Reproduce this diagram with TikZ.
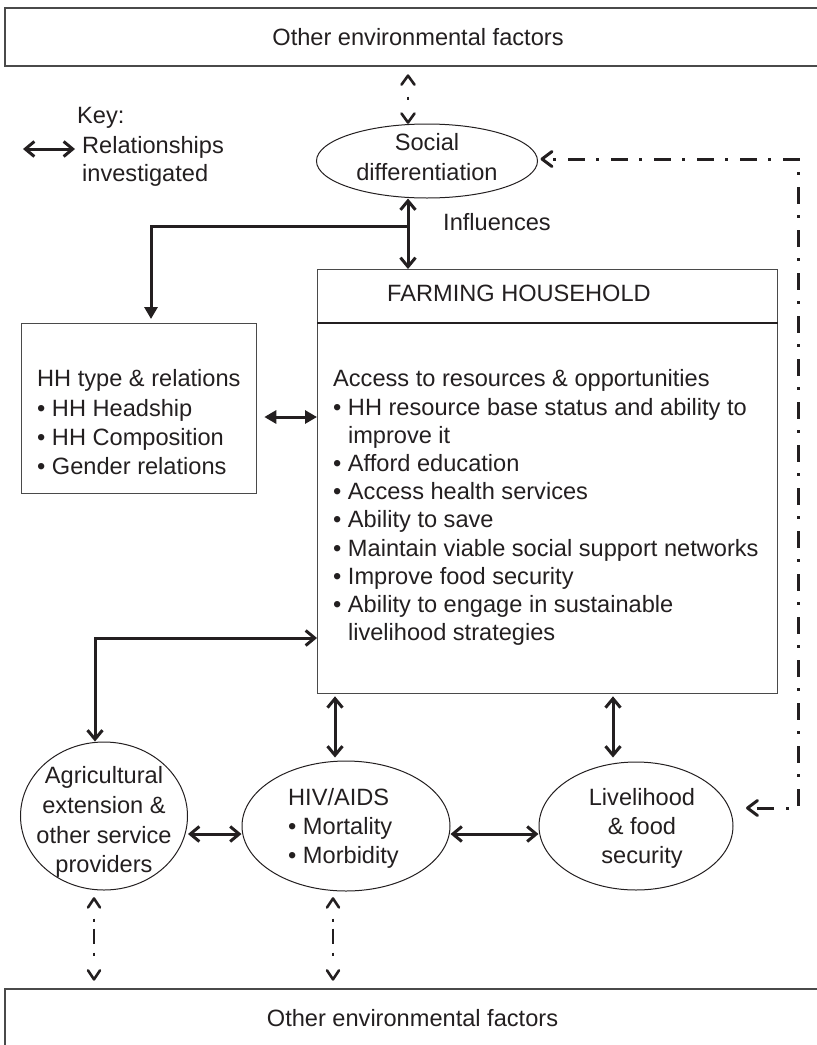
\documentclass[tikz,border=0pt]{standalone}
\usepackage{fontspec}
\setmainfont{Liberation Sans}
\usetikzlibrary{arrows.meta,shapes.geometric}
\definecolor{ink}{HTML}{231F20}
\definecolor{edge}{HTML}{4A4A4A}
\begin{document}
\begin{tikzpicture}[x=1pt,y=-1pt,
  every node/.style={text=ink,font=\fontsize{23.6}{29}\selectfont,inner sep=0pt},
  boxsty/.style={draw=edge,line width=1.3pt,rectangle},
  ellsty/.style={draw=ink,line width=1pt,ellipse},
  conn/.style={draw=ink,line width=3pt},
  >={Straight Barb[length=9pt,width=15pt]},
  ldash/.style={draw=ink,line width=3pt,dash pattern=on 17pt off 11pt on 3pt off 12pt,dash phase=17pt},
  sdashtop/.style={draw=ink,line width=2.2pt,dash pattern=on 0pt off 21pt on 3pt off 60pt},
  sdashbot/.style={draw=ink,line width=2.2pt,dash pattern=on 0pt off 20pt on 3pt off 7pt on 15pt off 9pt on 3pt off 60pt},
  chev/.style={draw=ink,solid,line width=2.6pt,line cap=round,line join=round},
  tri/.style={-{Triangle[length=12pt,width=13pt]}},
  dtri/.style={{Triangle[length=12pt,width=13pt]}-{Triangle[length=12pt,width=13pt]}}
]
\useasboundingbox (0,0) rectangle (817,1045);
\clip (0,0) rectangle (817,1045);

% coordinates
\coordinate (xa) at (408,0);
\coordinate (j1) at (408,226);
\coordinate (xb) at (151,0);
\coordinate (yhf) at (0,417);
\coordinate (j2) at (95,638);
\coordinate (xc) at (335,0);
\coordinate (xd) at (613,0);
\coordinate (ye) at (0,834);
\coordinate (cr1) at (798,159);
\coordinate (cr2) at (798,808);
\coordinate (xf) at (94,0);
\coordinate (xg) at (333,0);
\coordinate (divy) at (0,323);
\coordinate (k1) at (23,149);

% boxes
\node[boxsty,minimum width=826pt,minimum height=58pt] (envtop) at (418,37) {Other environmental factors};
\node[boxsty,minimum width=815pt,minimum height=58pt] (envbot) at (412.5,1018) {Other environmental factors};

\node[boxsty,minimum width=460pt,minimum height=424pt,anchor=north west] (fh) at (317,269) {};
\draw[draw=ink,line width=1.6pt] (fh.west |- divy) -- (fh.east |- divy);
\node (fhtitle) at (519,293) {FARMING HOUSEHOLD};
\node[align=left,anchor=north west,font=\fontsize{23.6}{28.2}\selectfont] (fhbody) at (333,369.5)
 {Access to resources \& opportunities\\
  • HH resource base status and ability to\\
  \phantom{• }improve it\\
  • Afford education\\
  • Access health services\\
  • Ability to save\\
  • Maintain viable social support networks\\
  • Improve food security\\
  • Ability to engage in sustainable\\
  \phantom{• }livelihood strategies};

\node[boxsty,minimum width=235pt,minimum height=170pt,anchor=north west] (hh) at (21,323) {};
\node[align=left,anchor=north west,font=\fontsize{23.6}{29.3}\selectfont] (hhtxt) at (37,369.5)
 {HH type \& relations\\
  • HH Headship\\
  • HH Composition\\
  • Gender relations};

% ellipses
\node[ellsty,minimum width=221pt,minimum height=74pt] (soc) at (427,161) {};
\node[align=center,font=\fontsize{23.6}{30}\selectfont] (soctxt) at (427,157) {Social\\differentiation};

\node[ellsty,minimum width=167pt,minimum height=148pt] (agr) at (104,816) {};
\node[align=center,anchor=north,font=\fontsize{23.6}{29.7}\selectfont] (agrtxt) at (104,766.5)
 {Agricultural\\extension \&\\other service\\providers};

\node[ellsty,minimum width=208pt,minimum height=130pt] (hiv) at (346,826) {};
\node[align=left,anchor=north west,font=\fontsize{23.6}{29}\selectfont] (hivtxt) at (288,788.5)
 {HIV/AIDS\\• Mortality\\• Morbidity};

\node[ellsty,minimum width=194pt,minimum height=128pt] (liv) at (636,826) {};
\node[align=center,anchor=north,font=\fontsize{23.6}{29}\selectfont] (livtxt) at (642,788.5)
 {Livelihood\\\& food\\security};

% key and labels
\node[anchor=base west] (keyt) at (77,123.5) {Key:};
\node[align=left,anchor=north west,font=\fontsize{23.6}{28}\selectfont] (keytxt) at (82,136.5) {Relationships\\investigated};
\node[anchor=base west] (infl) at (443,230.5) {Influences};

% solid connectors
\draw[conn,<->,shorten >=7pt] (k1) -- (keytxt.west |- k1);
\draw[conn,<->] (soc.south -| xa) -- (fh.north -| xa);
\draw[conn,tri,shorten >=4pt] (j1) -| (hh.north -| xb);
\draw[conn,dtri,shorten <=7pt] (hh.east |- yhf) -- (fh.west |- yhf);
\draw[conn,<->] (agr.north -| j2) |- (fh.west |- j2);
\draw[conn,<->,shorten <=2pt,shorten >=3pt] (fh.south -| xc) -- (hiv.north -| xc);
\draw[conn,<->,shorten <=2pt,shorten >=4pt] (fh.south -| xd) -- (liv.north -| xd);
\draw[conn,<->] (agr.east |- ye) -- (hiv.west |- ye);
\draw[conn,<->] (hiv.east |- ye) -- (liv.west |- ye);

% dash-dot connectors (end points taken from the nodes)
\path (envtop.south -| xa) ++(0,9) coordinate (t1);
\path (soc.north -| xa) ++(0,-1) coordinate (t2);
\path (soc.east |- cr1) ++(4,0) coordinate (t3);
\path (liv.east |- cr2) ++(14,0) coordinate (t4);
\path (agr.south -| xf) ++(0,8) coordinate (t5);
\path (envbot.north -| xf) ++(0,-9) coordinate (t6);
\path (hiv.south -| xg) ++(0,7) coordinate (t7);
\path (envbot.north -| xg) ++(0,-9) coordinate (t8);

\draw[sdashtop] (t1) -- (t2);
\draw[ldash] (t3) -- (cr1) -- (cr2) -- (t4);
\draw[sdashbot] (t5) -- (t6);
\draw[sdashbot] (t7) -- (t8);

% open arrow heads of the dash-dot connectors
\draw[chev] ([shift={(-6.5,9)}]t1) -- (t1) -- ([shift={(6.5,9)}]t1);
\draw[chev] ([shift={(-6.5,-9)}]t2) -- (t2) -- ([shift={(6.5,-9)}]t2);
\draw[chev,line width=3pt] ([shift={(10,-7.5)}]t3) -- (t3) -- ([shift={(10,7.5)}]t3);
\draw[chev,line width=3pt] ([shift={(10,-7.5)}]t4) -- (t4) -- ([shift={(10,7.5)}]t4);
\draw[chev] ([shift={(-6,9)}]t5) -- (t5) -- ([shift={(6,9)}]t5);
\draw[chev] ([shift={(-6,-9)}]t6) -- (t6) -- ([shift={(6,-9)}]t6);
\draw[chev] ([shift={(-6,9)}]t7) -- (t7) -- ([shift={(6,9)}]t7);
\draw[chev] ([shift={(-6,-9)}]t8) -- (t8) -- ([shift={(6,-9)}]t8);
\end{tikzpicture}
\end{document}
